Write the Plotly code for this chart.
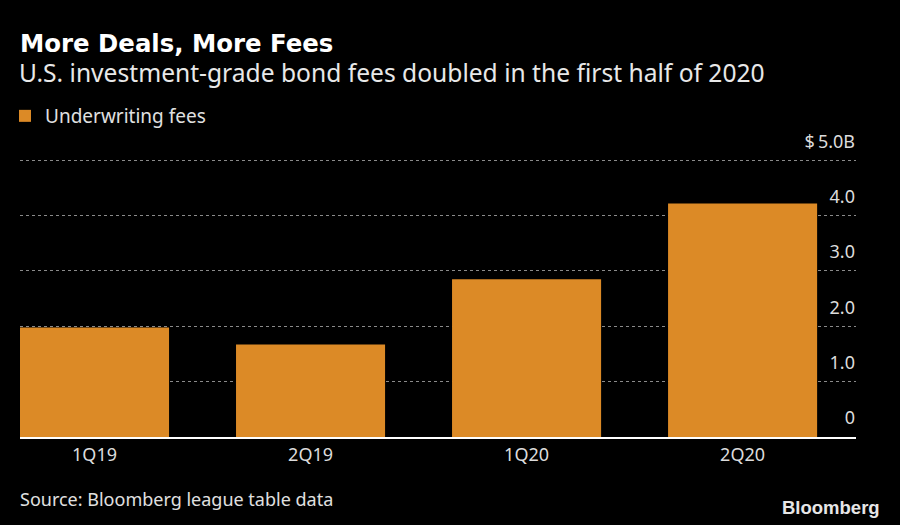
import plotly.graph_objects as go

categories = ["1Q19", "2Q19", "1Q20", "2Q20"]
fees = [1.98, 1.67, 2.85, 4.22]
y_tickvals = [0, 1, 2, 3, 4, 5]
y_ticktext = ["0", "1.0", "2.0", "3.0", "4.0", "$\u20095.0B"]

W, H = 900, 525
ML, MR, MT, MB = 20, 44, 127, 88
PW, PH = W - ML - MR, H - MT - MB
BODY = "Noto Sans, DejaVu Sans, sans-serif"


def px(x):
    return (x - ML) / PW


def py(y):
    return (H - MB - y) / PH


fig = go.Figure()
fig.add_trace(go.Bar(
    x=categories, y=fees, name="Underwriting fees",
    marker=dict(color="#DC8A26", line=dict(width=0)),
    width=0.69,
))

fig.update_layout(
    width=W, height=H,
    paper_bgcolor="#000000", plot_bgcolor="#000000",
    margin=dict(l=ML, r=MR, t=MT, b=MB, autoexpand=False),
    showlegend=True,
    legend=dict(
        xref="container", yref="container", x=5 / W, y=1 - 97 / H,
        xanchor="left", yanchor="top", orientation="h",
        font=dict(family=BODY, size=19, color="#e0e0e0"),
        bgcolor="rgba(0,0,0,0)",
    ),
    xaxis=dict(
        type="category", range=[-0.345, 3.525], automargin=False,
        showline=True, linecolor="#ffffff", linewidth=1.5,
        showgrid=False, ticks="", zeroline=False,
        ticklabelstandoff=1,
        tickfont=dict(family=BODY, size=18, color="#dcdcdc"),
    ),
    yaxis=dict(
        range=[0, 5.6], side="right", automargin=False,
        tickvals=y_tickvals, ticktext=y_ticktext,
        ticklabelposition="inside", ticklabelstandoff=-2, ticklabelshift=-19,
        showgrid=True, gridcolor="#8a8a8a", griddash="dot", gridwidth=1,
        zeroline=False, showline=False, ticks="",
        tickfont=dict(family=BODY, size=18, color="#dcdcdc"),
    ),
    annotations=[
        dict(text="<b>More Deals, More Fees</b>",
             xref="paper", yref="paper", x=px(18), y=py(27),
             xanchor="left", yanchor="top", showarrow=False,
             font=dict(family="DejaVu Sans, sans-serif", size=24.4, color="#ffffff")),
        dict(text="U.S. investment-grade bond fees doubled in the first half of 2020",
             xref="paper", yref="paper", x=px(17), y=py(54),
             xanchor="left", yanchor="top", showarrow=False,
             font=dict(family=BODY, size=24.6, color="#e8e8e8")),
        dict(text="Source: Bloomberg league table data",
             xref="paper", yref="paper", x=px(18), y=py(485),
             xanchor="left", yanchor="top", showarrow=False,
             font=dict(family=BODY, size=18, color="#e0e0e0")),
        dict(text="<b>Bloomberg</b>",
             xref="paper", yref="paper", x=px(882), y=py(495),
             xanchor="right", yanchor="top", showarrow=False,
             font=dict(family="Liberation Sans, Arial, sans-serif", size=18.5, color="#e6e6e6")),
    ],
)

fig.write_html("out.html", config={"displayModeBar": False},
               post_script="document.body.style.margin='0px';")
